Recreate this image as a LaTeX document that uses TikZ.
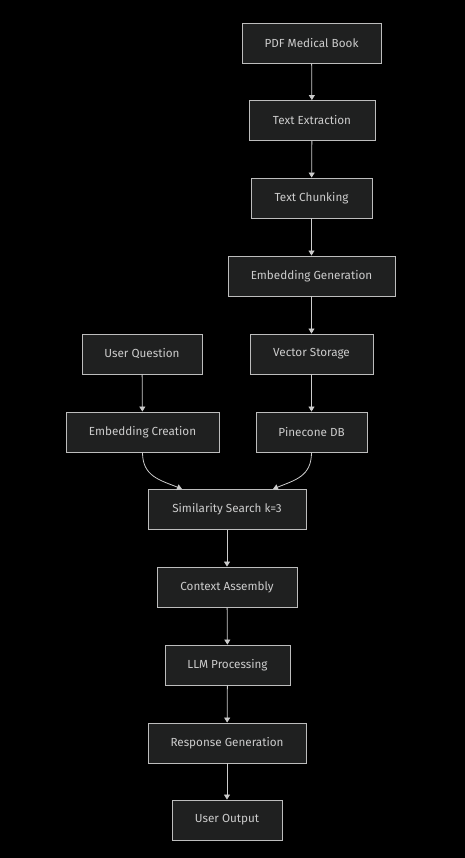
\documentclass[tikz,border=0pt]{standalone}
\usepackage{fontspec}
\setmainfont{Fira Sans}
\usetikzlibrary{arrows.meta,calc}
\definecolor{bg}{HTML}{000000}
\definecolor{boxfill}{HTML}{1F2020}
\definecolor{boxline}{HTML}{BDBDBD}
\definecolor{txt}{HTML}{CCCCCC}
\definecolor{edge}{HTML}{CCCCCC}
\begin{document}
\begin{tikzpicture}[x=1pt,y=1pt,
  box/.style={draw=boxline,fill=boxfill,line width=0.9pt,text=txt,font=\fontsize{11.7}{13}\selectfont,minimum height=40pt,inner sep=0pt,anchor=center},
  flow/.style={draw=edge,line width=0.8pt,-{Triangle[width=6pt,length=5pt]}}]
\fill[bg] (0,0) rectangle (465,-858);
\useasboundingbox (0,0) rectangle (465,-858);
\node[box,minimum width=139pt] (pdf) at (311.5,-43) {PDF Medical Book};
\node[box,minimum width=126pt] (te) at (312,-120.5) {Text Extraction};
\node[box,minimum width=121pt] (tc) at (311.5,-198) {Text Chunking};
\node[box,minimum width=167pt] (eg) at (311.5,-276) {Embedding Generation};
\node[box,minimum width=123pt] (vs) at (311.5,-354) {Vector Storage};
\node[box,minimum width=120pt] (uq) at (142,-354) {User Question};
\node[box,minimum width=153pt] (ec) at (142.5,-432) {Embedding Creation};
\node[box,minimum width=111pt] (pc) at (311.5,-432) {Pinecone DB};
\node[box,minimum width=158pt] (ss) at (227,-509.5) {Similarity Search k=3};
\node[box,minimum width=140pt] (ca) at (227,-587) {Context Assembly};
\node[box,minimum width=125pt] (llm) at (227.5,-665) {LLM Processing};
\node[box,minimum width=158pt] (rg) at (227,-743) {Response Generation};
\node[box,minimum width=110pt] (uo) at (227,-820) {User Output};
\coordinate (ssl) at ($(ss.north)+(-45,0)$);
\coordinate (ssr) at ($(ss.north)+(46,0)$);
\draw[flow] (pdf) -- (te);
\draw[flow] (te) -- (tc);
\draw[flow] (tc) -- (eg);
\draw[flow] (eg) -- (vs);
\draw[flow] (vs) -- (pc);
\draw[flow] (uq) -- (ec);
\draw[flow] (ec.south) .. controls +(0,-24) and +(-22,9) .. (ssl);
\draw[flow] (pc.south) .. controls +(0,-24) and +(22,9) .. (ssr);
\draw[flow] (ss) -- (ca);
\draw[flow] (ca) -- (llm);
\draw[flow] (llm) -- (rg);
\draw[flow] (rg) -- (uo);
\end{tikzpicture}
\end{document}
